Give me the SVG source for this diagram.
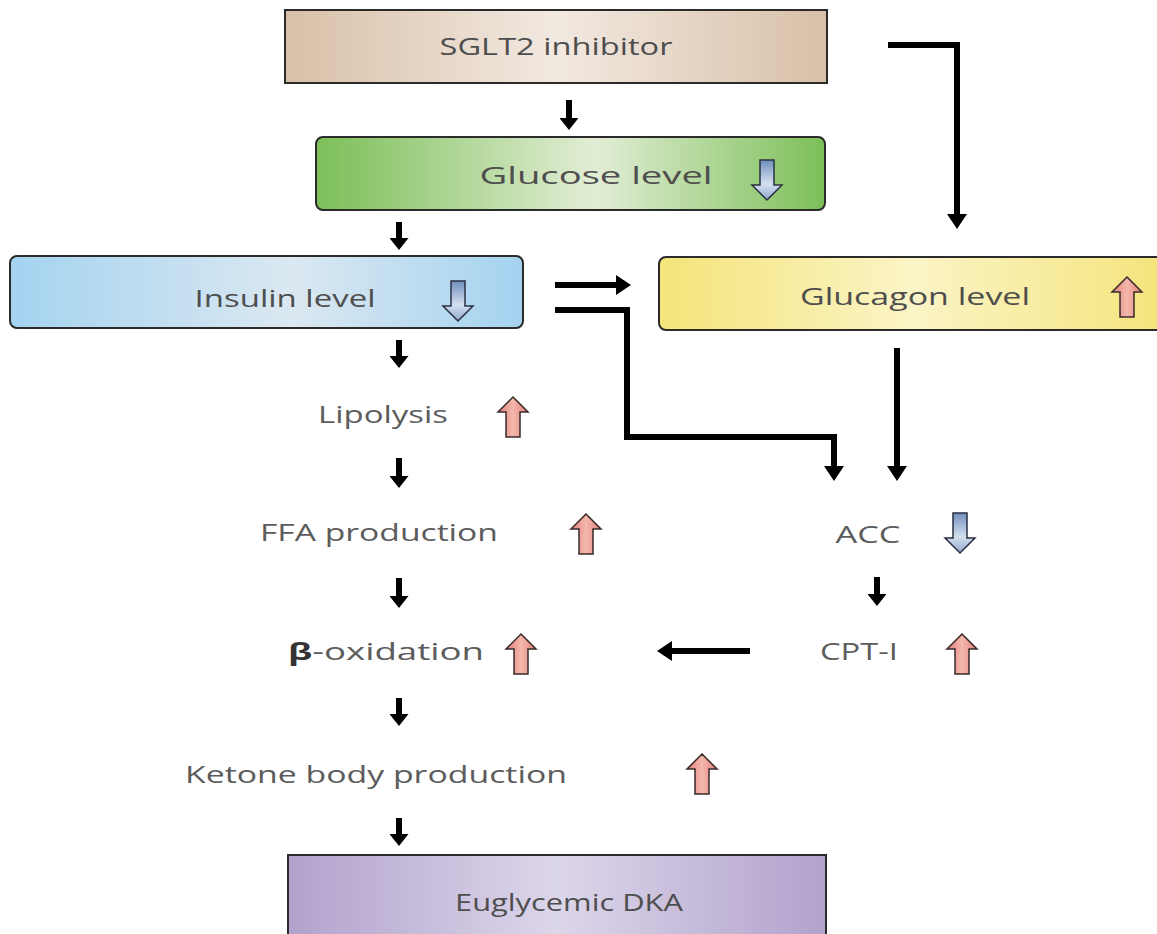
<svg xmlns="http://www.w3.org/2000/svg" width="1157" height="934" viewBox="0 0 1157 934">
<style>
.box{stroke:#2b2b2b;stroke-width:2}
.t{font-family:"Open Sans","Liberation Sans",sans-serif;font-size:23px;fill:#5c5c5c;text-anchor:middle}
.tb{font-family:"Open Sans","Liberation Sans",sans-serif;font-size:23px;fill:#4e4e4e;text-anchor:middle}
.c{fill:none;stroke:#000;stroke-width:6}
.s{fill:none;stroke:#000;stroke-width:6}
.up{fill:url(#gPink);stroke:#3a2a2a;stroke-width:1.5}
.dn{fill:url(#gBlue);stroke:#2a3040;stroke-width:1.5}
</style>
<defs>
<linearGradient id="gTan" x1="0" x2="1" y1="0" y2="0"><stop offset="0" stop-color="#d8c0a8"/><stop offset="0.5" stop-color="#f2e9e1"/><stop offset="1" stop-color="#d8c0a8"/></linearGradient>
<linearGradient id="gGreen" x1="0" x2="1" y1="0" y2="0"><stop offset="0" stop-color="#7cbf58"/><stop offset="0.55" stop-color="#e2edd5"/><stop offset="1" stop-color="#7cbf58"/></linearGradient>
<linearGradient id="gBlueBox" x1="0" x2="1" y1="0" y2="0"><stop offset="0" stop-color="#a4d3f0"/><stop offset="0.55" stop-color="#dbe8f1"/><stop offset="1" stop-color="#a4d3f0"/></linearGradient>
<linearGradient id="gYellow" x1="0" x2="1" y1="0" y2="0"><stop offset="0" stop-color="#f4e47a"/><stop offset="0.5" stop-color="#fbf4c6"/><stop offset="1" stop-color="#f4e47a"/></linearGradient>
<linearGradient id="gPurple" x1="0" x2="1" y1="0" y2="0"><stop offset="0" stop-color="#b2a2cc"/><stop offset="0.5" stop-color="#dcd6ea"/><stop offset="1" stop-color="#b2a2cc"/></linearGradient>
<linearGradient id="gPink" x1="0" x2="1" y1="0" y2="0"><stop offset="0" stop-color="#e07f76"/><stop offset="0.5" stop-color="#f4b8ad"/><stop offset="1" stop-color="#e07f76"/></linearGradient>
<linearGradient id="gBlue" x1="0" x2="0" y1="0" y2="1"><stop offset="0" stop-color="#6f8fbb"/><stop offset="0.6" stop-color="#d5e0f0"/><stop offset="1" stop-color="#8fa8cc"/></linearGradient>
<marker id="ah" viewBox="0 0 10 10" refX="0" refY="5" markerWidth="15" markerHeight="20" markerUnits="userSpaceOnUse" orient="auto" preserveAspectRatio="none"><path d="M0,0 L10,5 L0,10 z" fill="#000"/></marker>
<marker id="as" viewBox="0 0 10 10" refX="0" refY="5" markerWidth="12" markerHeight="19" markerUnits="userSpaceOnUse" orient="auto" preserveAspectRatio="none"><path d="M0,0 L10,5 L0,10 z" fill="#000"/></marker>
<path id="upA" d="M0,0 L15,15 L7,15 L7,40 L-7,40 L-7,15 L-15,15 Z"/>
<path id="dnA" d="M0,40 L15,25 L7,25 L7,0 L-7,0 L-7,25 L-15,25 Z"/>
</defs>

<g id="connectors">
<path class="s" d="M569,100 V118" marker-end="url(#as)"/>
<path class="s" d="M399,222 V238" marker-end="url(#as)"/>
<path class="s" d="M399,340 V356" marker-end="url(#as)"/>
<path class="s" d="M399,458 V476" marker-end="url(#as)"/>
<path class="s" d="M399,578 V596" marker-end="url(#as)"/>
<path class="s" d="M877,577 V594" marker-end="url(#as)"/>
<path class="s" d="M399,698 V714" marker-end="url(#as)"/>
<path class="s" d="M399,818 V834" marker-end="url(#as)"/>
<path class="c" d="M888,45 H957 V214" marker-end="url(#ah)"/>
<path class="s" d="M555,285 H616" marker-end="url(#ah)"/>
<path class="c" d="M555,310 H627 V437 H834 V466" marker-end="url(#ah)"/>
<path class="c" d="M897,348 V466" marker-end="url(#ah)"/>
<path class="s" d="M750,651 H672" marker-end="url(#ah)"/>
</g>

<g id="sglt2">
<rect class="box" x="285" y="10" width="542" height="73" fill="url(#gTan)"/>
<text class="tb" x="556" y="55" textLength="233" lengthAdjust="spacingAndGlyphs">SGLT2 inhibitor</text>
</g>

<g id="glucose">
<rect class="box" x="316" y="137" width="509" height="73" rx="7" fill="url(#gGreen)"/>
<text class="tb" x="596" y="184" textLength="233" lengthAdjust="spacingAndGlyphs">Glucose level</text>
<use href="#dnA" x="767" y="160" class="dn"/>
</g>

<g id="insulin">
<rect class="box" x="10" y="256" width="513" height="72" rx="7" fill="url(#gBlueBox)"/>
<text class="tb" x="285" y="307" textLength="181" lengthAdjust="spacingAndGlyphs">Insulin level</text>
<use href="#dnA" x="458" y="281" class="dn"/>
</g>

<g id="glucagon">
<rect class="box" x="659" y="257" width="510" height="73" rx="7" fill="url(#gYellow)"/>
<text class="tb" x="915" y="305" textLength="230" lengthAdjust="spacingAndGlyphs">Glucagon level</text>
<use href="#upA" x="1127" y="277" class="up"/>
</g>

<g id="lipolysis">
<text class="t" x="383" y="423" textLength="130" lengthAdjust="spacingAndGlyphs">Lipolysis</text>
<use href="#upA" x="513" y="397" class="up"/>
</g>

<g id="ffa">
<text class="t" x="379" y="541" textLength="238" lengthAdjust="spacingAndGlyphs">FFA production</text>
<use href="#upA" x="586" y="514" class="up"/>
</g>

<g id="acc">
<text class="t" x="868" y="543" textLength="65" lengthAdjust="spacingAndGlyphs">ACC</text>
<use href="#dnA" x="960" y="513" class="dn"/>
</g>

<g id="cpt1">
<text class="t" x="859" y="660" textLength="78" lengthAdjust="spacingAndGlyphs">CPT-I</text>
<use href="#upA" x="962" y="634" class="up"/>
</g>

<g id="betaox">
<text class="t" x="386" y="660" textLength="196" lengthAdjust="spacingAndGlyphs"><tspan font-weight="bold" fill="#333">β</tspan>-oxidation</text>
<use href="#upA" x="521" y="634" class="up"/>
</g>

<g id="ketone">
<text class="t" x="376" y="783" textLength="382" lengthAdjust="spacingAndGlyphs">Ketone body production</text>
<use href="#upA" x="702" y="754" class="up"/>
</g>

<g id="dka">
<rect class="box" x="288" y="855" width="538" height="90" fill="url(#gPurple)"/>
<text class="tb" x="569" y="911" textLength="228" lengthAdjust="spacingAndGlyphs">Euglycemic DKA</text>
</g>
</svg>
